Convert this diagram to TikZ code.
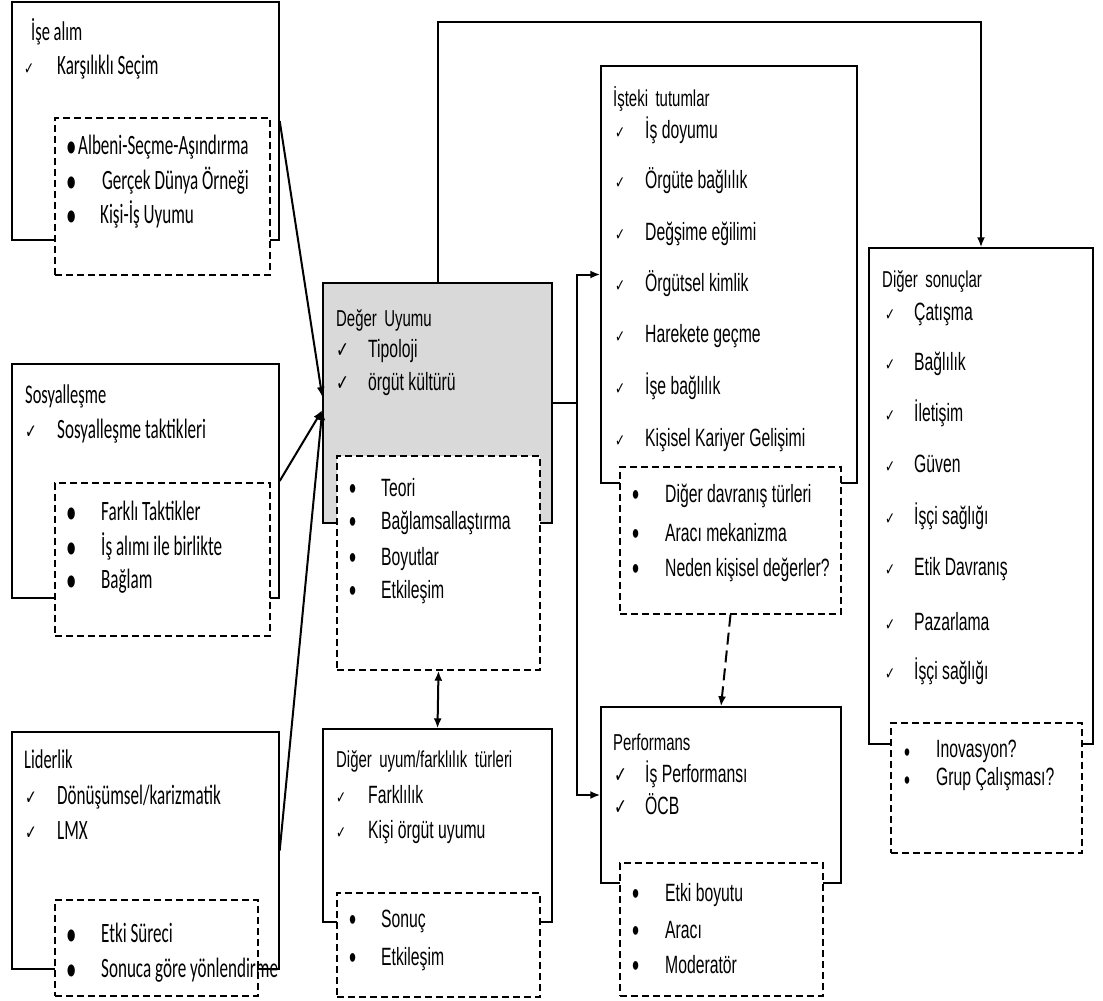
\documentclass[tikz,border=0pt]{standalone}
\usepackage{fontspec}
\setmainfont{Liberation Sans}
\newfontfamily\calfont[FakeStretch=0.61]{Carlito}
\newfontfamily\arfont[FakeStretch=0.63]{Liberation Sans}
\newfontfamily\arhfont[FakeStretch=0.65,WordSpace=1.8]{Liberation Sans}
\newfontfamily\symfont[FakeStretch=0.7]{DejaVu Sans}
\usetikzlibrary{arrows.meta}
\definecolor{fitgray}{HTML}{D9D9D9}

\tikzset{
  solidbox/.style={draw,line width=1.4pt,inner sep=0pt},
  dashbox/.style={draw,fill=white,line width=1.4pt,dash pattern=on 7pt off 4pt,inner sep=0pt},
  conn/.style={line width=2pt},
  txt/.style={anchor=base west,inner sep=0pt},
  lhead/.style={txt,font=\calfont\fontsize{27}{30}\selectfont},
  ltext/.style={txt,font=\calfont\fontsize{28}{30}\selectfont},
  rhead/.style={txt,font=\arhfont\fontsize{23}{26}\selectfont},
  rtext/.style={txt,font=\arfont\fontsize{25}{28}\selectfont},
  ckbig/.style={txt,font=\symfont\fontsize{22}{24}\selectfont},
  ckmid/.style={txt,font=\symfont\fontsize{20}{22}\selectfont},
  cksmall/.style={txt,font=\symfont\fontsize{17}{18}\selectfont},
  lbul/.style={txt,yshift=-3pt,font=\calfont\fontsize{34}{30}\selectfont},
  rbul/.style={txt,yshift=-3pt,font=\arfont\fontsize{32}{30}\selectfont},
}

\begin{document}
\begin{tikzpicture}[x=1pt,y=-1pt,>={Latex[length=10pt,width=8pt]}]
\useasboundingbox (0,0) rectangle (1103,1001);
% frames
\node[solidbox,minimum width=267pt,minimum height=238pt] (isealim) at (145.5,121) {};
\node[solidbox,minimum width=267pt,minimum height=234pt] (sosyal) at (145.5,481) {};
\node[solidbox,minimum width=267pt,minimum height=237pt] (lider) at (145.5,850.5) {};
\node[solidbox,fill=fitgray,minimum width=229pt,minimum height=240pt] (deger) at (437.5,403) {};
\node[solidbox,minimum width=229pt,minimum height=193pt] (uyum) at (437.5,825.5) {};
\node[solidbox,minimum width=256pt,minimum height=417pt] (isteki) at (729,274.5) {};
\node[solidbox,minimum width=240pt,minimum height=176pt] (perf) at (721,795) {};
\node[solidbox,minimum width=224pt,minimum height=496pt] (sonuc) at (981,496) {};
% dashed insets
\node[dashbox,minimum width=215pt,minimum height=157pt] (isealimd) at (162.5,196.5) {};
\node[dashbox,minimum width=215pt,minimum height=153pt] (sosyald) at (162.5,559.5) {};
\node[dashbox,minimum width=203pt,minimum height=96pt] (liderd) at (156.5,948) {};
\node[dashbox,minimum width=203pt,minimum height=214pt] (degerd) at (438.5,563) {};
\node[dashbox,minimum width=203pt,minimum height=104pt] (uyumd) at (438.5,945) {};
\node[dashbox,minimum width=221pt,minimum height=147pt] (istekid) at (730.5,540.5) {};
\node[dashbox,minimum width=203pt,minimum height=133pt] (perfd) at (721.5,929.5) {};
\node[dashbox,minimum width=191pt,minimum height=130pt] (sonucd) at (986.5,788) {};

% links
\coordinate (ceil) at (0,22);
\coordinate (jn) at ([xshift=24pt]deger.east);
\draw[conn,->] (isealim.east) -- ([yshift=6pt]deger.west);
\draw[conn,->] (sosyal.east) -- ([yshift=-7pt]deger.west);
\draw[conn,->] (lider.east) -- ([yshift=-7pt]deger.west);
\draw[conn] (deger.east) -- (jn);
\draw[conn,->] (jn) |- (isteki.west);
\draw[conn,->] (jn) |- (perf.west);
\draw[conn,->] (deger.north) -- (deger.north |- ceil) -| (sonuc.north);
\draw[conn,<->] (degerd.south) -- (uyum.north);
\draw[conn,->,dash pattern=on 12pt off 6pt] (istekid.south) -- (perf.north);

% İşe alım
\node[lhead] (ia-h) at (31,40) {İşe alım};
\node[cksmall] (ia-c1) at (24,74) {✓};
\node[ltext] (ia-t1) at (57,74) {Karşılıklı Seçim};
\node[lbul] (ia-b1) at (66,154) {•};
\node[ltext] (ia-t2) at (78,154) {Albeni-Seçme-Aşındırma};
\foreach \y/\x/\t [count=\i from 2] in {189/102/Gerçek Dünya Örneği,223/100/Kişi-İş Uyumu} {
  \node[lbul] (ia-b\i) at (66,\y) {•};
  \node[ltext] (ia-t\i) at (\x,\y) {\t};
}
% Sosyalleşme
\node[lhead] (so-h) at (25,403) {Sosyalleşme};
\node[ckmid] (so-c1) at (25,438) {✓};
\node[ltext] (so-t1) at (57,438) {Sosyalleşme taktikleri};
\foreach \y/\t [count=\i] in {520/Farklı Taktikler,555/İş alımı ile birlikte,588/Bağlam} {
  \node[lbul] (sod-b\i) at (66,\y) {•};
  \node[ltext] (sod-t\i) at (101,\y) {\t};
}
% Liderlik
\node[lhead] (li-h) at (24,768) {Liderlik};
\foreach \y/\t [count=\i] in {804/{Dönüşümsel/karizmatik},839/LMX} {
  \node[ckmid] (li-c\i) at (25,\y) {✓};
  \node[ltext] (li-t\i) at (57,\y) {\t};
}
\foreach \y/\t [count=\i] in {942/Etki Süreci,977/Sonuca göre yönlendirme} {
  \node[lbul] (lid-b\i) at (66,\y) {•};
  \node[ltext] (lid-t\i) at (101,\y) {\t};
}
% Değer Uyumu
\node[rhead] (dg-h) at (336,326) {Değer Uyumu};
\foreach \y/\t [count=\i] in {357/Tipoloji,390/örgüt kültürü} {
  \node[ckbig] (dg-c\i) at (336,\y) {✓};
  \node[rtext] (dg-t\i) at (368,\y) {\t};
}
\foreach \y/\t [count=\i] in {496/Teori,529/Bağlamsallaştırma,565/Boyutlar,598/Etkileşim} {
  \node[rbul] (dgd-b\i) at (349,\y) {•};
  \node[rtext] (dgd-t\i) at (381,\y) {\t};
}
% Diğer uyum
\node[rhead] (uy-h) at (336,767) {Diğer uyum/farklılık türleri};
\foreach \y/\t [count=\i] in {803/Farklılık,838/Kişi örgüt uyumu} {
  \node[cksmall] (uy-c\i) at (336,\y) {✓};
  \node[rtext] (uy-t\i) at (368,\y) {\t};
}
\foreach \y/\t [count=\i] in {927/Sonuç,965/Etkileşim} {
  \node[rbul] (uyd-b\i) at (349,\y) {•};
  \node[rtext] (uyd-t\i) at (381,\y) {\t};
}
% İşteki tutumlar
\node[rhead] (it-h) at (613,106) {İşteki tutumlar};
\foreach \y/\t [count=\i] in {138/İş doyumu,188/Örgüte bağlılık,240/Değşime eğilimi,291/Örgütsel kimlik,342/Harekete geçme,394/İşe bağlılık,446/Kişisel Kariyer Gelişimi} {
  \node[cksmall] (it-c\i) at (615,\y) {✓};
  \node[rtext] (it-t\i) at (645,\y) {\t};
}
\foreach \y/\t [count=\i] in {502/Diğer davranış türleri,541/Aracı mekanizma,576/Neden kişisel değerler?} {
  \node[rbul] (itd-b\i) at (632,\y) {•};
  \node[rtext] (itd-t\i) at (665,\y) {\t};
}
% Performans
\node[rhead] (pf-h) at (613,750) {Performans};
\foreach \y/\t [count=\i] in {782/İş Performansı,814/ÖCB} {
  \node[ckbig] (pf-c\i) at (614,\y) {✓};
  \node[rtext] (pf-t\i) at (645,\y) {\t};
}
\foreach \y/\t [count=\i] in {901/Etki boyutu,938/Aracı,973/Moderatör} {
  \node[rbul] (pfd-b\i) at (632,\y) {•};
  \node[rtext] (pfd-t\i) at (665,\y) {\t};
}
% Diğer sonuçlar
\node[rhead] (sn-h) at (882,287) {Diğer sonuçlar};
\foreach \y/\t [count=\i] in {320/Çatışma,370/Bağlılık,421/İletişim,472/Güven,524/İşçi sağlığı,575/Etik Davranış,630/Pazarlama,679/İşçi sağlığı} {
  \node[cksmall] (sn-c\i) at (885,\y) {✓};
  \node[rtext] (sn-t\i) at (914,\y) {\t};
}
\foreach \y/\t [count=\i] in {757/Inovasyon?,785/Grup Çalışması?} {
  \node[rbul,font=\arfont\fontsize{27}{27}\selectfont,yshift=-1pt] (snd-b\i) at (904,\y) {•};
  \node[rtext] (snd-t\i) at (936,\y) {\t};
}
\end{tikzpicture}
\end{document}
